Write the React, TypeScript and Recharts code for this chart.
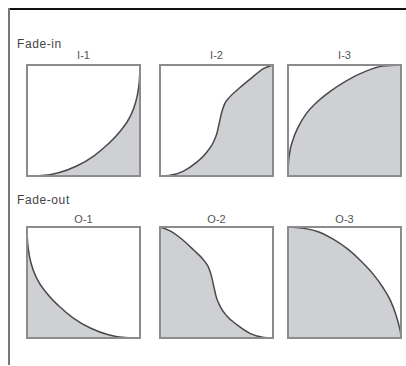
import React from "react";
import { AreaChart, Area, XAxis, YAxis, ReferenceArea } from "recharts";

// values (x = position 0..1, y = gain 0..1)
const i1X = [0, 0.13, 0.28, 0.44, 0.59, 0.72, 0.83, 0.91, 0.96, 0.985, 0.997, 1];
const i1Y = [0, 0.004, 0.03, 0.09, 0.18, 0.29, 0.41, 0.53, 0.66, 0.78, 0.9, 1];

const i2X = [0, 0.08, 0.2, 0.32, 0.41, 0.47, 0.505, 0.525, 0.545, 0.57, 0.62, 0.7, 0.8, 0.92, 1];
const i2Y = [0, 0.005, 0.04, 0.12, 0.21, 0.3, 0.39, 0.48, 0.57, 0.645, 0.715, 0.79, 0.875, 0.97, 1];

const i3X = [0, 0.003, 0.015, 0.045, 0.09, 0.16, 0.25, 0.37, 0.52, 0.68, 0.84, 1];
const i3Y = [0, 0.1, 0.21, 0.33, 0.44, 0.56, 0.66, 0.76, 0.86, 0.94, 0.99, 1];

const o1X = [0, 0.003, 0.015, 0.04, 0.09, 0.17, 0.28, 0.41, 0.56, 0.72, 0.87, 1];
const o1Y = [1, 0.9, 0.78, 0.66, 0.53, 0.41, 0.29, 0.18, 0.09, 0.03, 0.004, 0];

const o2X = [0, 0.08, 0.2, 0.3, 0.38, 0.43, 0.455, 0.475, 0.495, 0.53, 0.59, 0.68, 0.8, 0.92, 1];
const o2Y = [1, 0.97, 0.885, 0.79, 0.71, 0.635, 0.56, 0.47, 0.38, 0.29, 0.2, 0.12, 0.04, 0.005, 0];

const o3X = [0, 0.12, 0.26, 0.4, 0.53, 0.65, 0.75, 0.84, 0.91, 0.955, 0.985, 0.997, 1];
const o3Y = [1, 0.99, 0.96, 0.89, 0.8, 0.69, 0.58, 0.455, 0.33, 0.21, 0.1, 0.04, 0];

const groupTitles = ["Fade-in", "Fade-out"];
const panelNames = [
  ["I-1", "I-2", "I-3"],
  ["O-1", "O-2", "O-3"],
];
const curves = [
  [
    [i1X, i1Y],
    [i2X, i2Y],
    [i3X, i3Y],
  ],
  [
    [o1X, o1Y],
    [o2X, o2Y],
    [o3X, o3Y],
  ],
];

const font = '"Liberation Sans", Arial, sans-serif';
const colLeft = [26, 159, 287];
const rowTop = [64, 226];
const titleTop = [37, 193];
const nameTop = [48, 212];
const PW = 115;
const PH = 113;

const toRows = (xs: number[], ys: number[]) => xs.map((x, i) => ({ x, y: ys[i] }));

function Panel({ xs, ys }: { xs: number[]; ys: number[] }) {
  return (
    <AreaChart
      width={PW}
      height={PH}
      data={toRows(xs, ys)}
      margin={{ top: 1, right: 1, bottom: 1, left: 1 }}
    >
      <XAxis dataKey="x" type="number" domain={[0, 1]} hide />
      <YAxis type="number" domain={[0, 1]} hide />
      <Area
        type="monotone"
        dataKey="y"
        stroke="#4a4a4a"
        strokeWidth={1.5}
        fill="#cfd0d3"
        fillOpacity={1}
        isAnimationActive={false}
        dot={false}
        activeDot={false}
      />
      <ReferenceArea
        x1={0}
        x2={1}
        y1={0}
        y2={1}
        fill="none"
        stroke="#8c8c8c"
        strokeWidth={2}
        ifOverflow="visible"
      />
    </AreaChart>
  );
}

export default function App() {
  return (
    <div
      style={{
        position: "absolute",
        left: 0,
        top: 0,
        width: 406,
        height: 366,
        background: "#fff",
        fontFamily: font,
        overflow: "hidden",
      }}
    >
      <div style={{ position: "absolute", left: 8, top: 8, width: 398, height: 2, background: "#111" }} />
      <div style={{ position: "absolute", left: 8, top: 8, width: 2, height: 357, background: "#777" }} />
      {groupTitles.map((t, r) => (
        <React.Fragment key={t}>
          <div
            style={{
              position: "absolute",
              left: 17,
              top: titleTop[r],
              fontSize: 12,
              lineHeight: "14px",
              color: "#444",
              letterSpacing: 0.6,
            }}
          >
            {t}
          </div>
          {panelNames[r].map((n, c) => (
            <React.Fragment key={n}>
              <div
                style={{
                  position: "absolute",
                  left: colLeft[c],
                  top: nameTop[r],
                  width: PW,
                  textAlign: "center",
                  fontSize: 11,
                  lineHeight: "14px",
                  color: "#555",
                }}
              >
                {n}
              </div>
              <div style={{ position: "absolute", left: colLeft[c], top: rowTop[r] }}>
                <Panel xs={curves[r][c][0]} ys={curves[r][c][1]} />
              </div>
            </React.Fragment>
          ))}
        </React.Fragment>
      ))}
    </div>
  );
}
